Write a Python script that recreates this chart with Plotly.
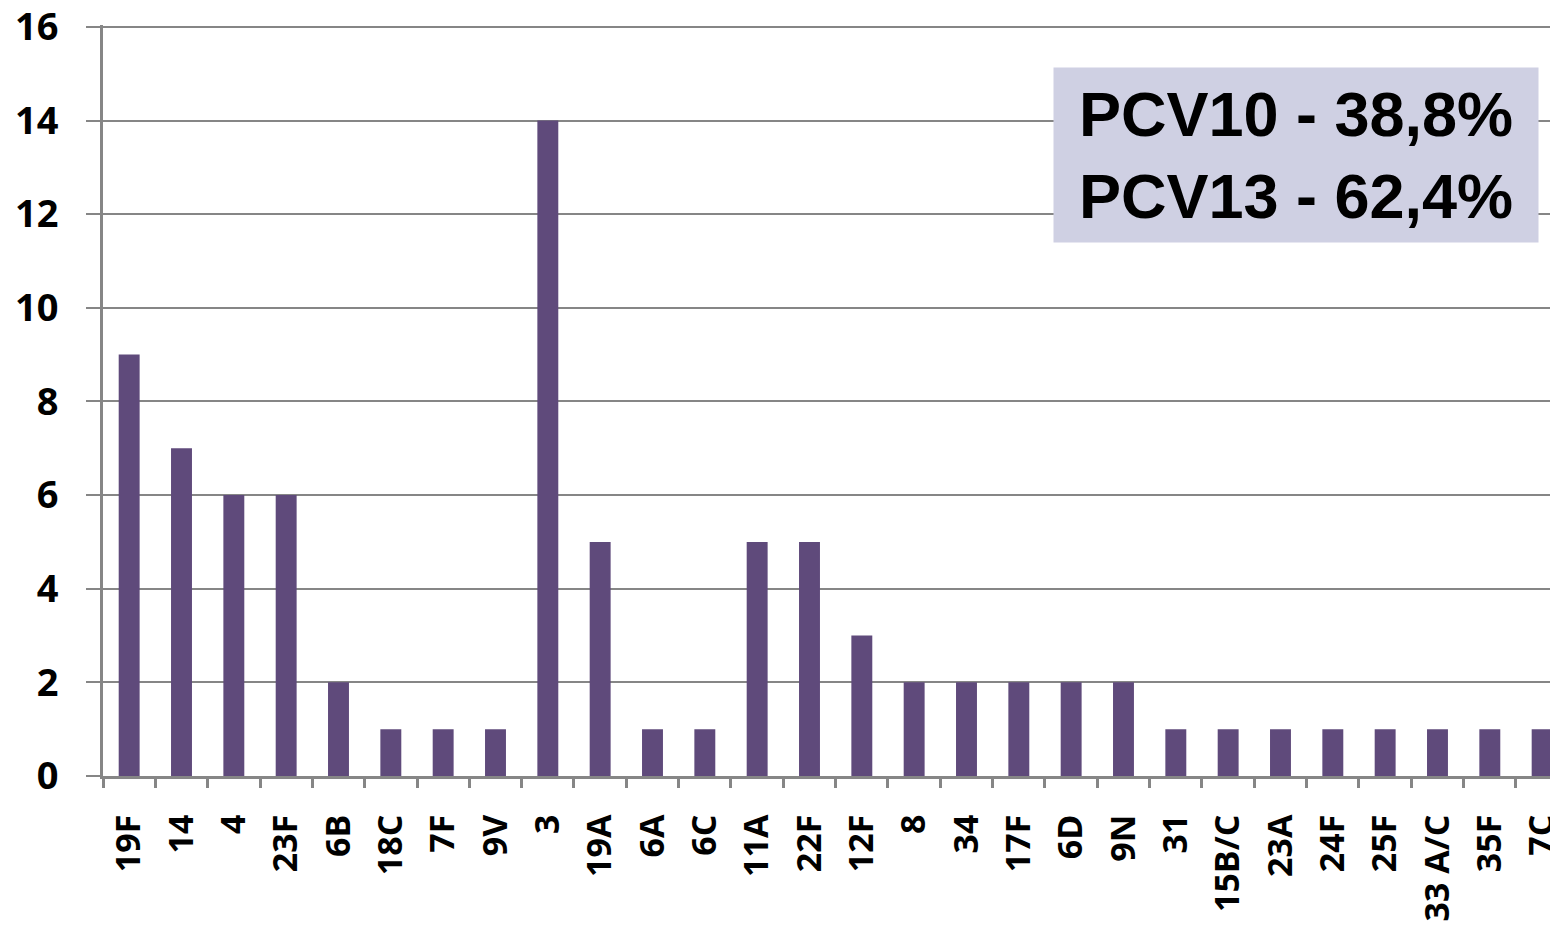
import plotly.graph_objects as go

serotypes = ['19F', '14', '4', '23F', '6B', '18C', '7F', '9V', '3', '19A', '6A', '6C',
             '11A', '22F', '12F', '8', '34', '17F', '6D', '9N', '31', '15B/C', '23A',
             '24F', '25F', '33 A/C', '35F', '7C']
counts = [9, 7, 6, 6, 2, 1, 1, 1, 14, 5, 1, 1, 5, 5, 3, 2, 2, 2, 2, 2, 1, 1, 1, 1, 1, 1, 1, 1]
y_ticks = [0, 2, 4, 6, 8, 10, 12, 14, 16]
box_text = "PCV10 - 38,8%<br>PCV13 - 62,4%"

GRAY = '#868686'
BAR = '#5F4A7B'

fig = go.Figure()
fig.add_trace(go.Bar(x=serotypes, y=counts, marker=dict(color=BAR, line=dict(width=0))))

fig.update_xaxes(
    type='category',
    range=[-0.5, 27.15],
    showline=True, linecolor=GRAY, linewidth=3,
    ticks='outside', tickson='boundaries', ticklen=9, tickwidth=3, tickcolor=GRAY,
    tickangle=-90,
    tickfont=dict(family='Open Sans', size=34, color='black', weight='bold'),
    ticklabelstandoff=22, ticklabeloverflow='allow',
    showgrid=False, automargin=False,
)
# small headroom above 16 so the top grid line is not clipped at the edge
fig.update_yaxes(
    range=[0, 16.04],
    tickvals=y_ticks,
    showline=True, linecolor=GRAY, linewidth=3,
    ticks='outside', ticklen=14, tickwidth=2, tickcolor=GRAY,
    showgrid=True, gridcolor=GRAY, gridwidth=2,
    zeroline=False, automargin=False,
    tickfont=dict(family='Open Sans', size=38, color='black', weight='bold'),
    ticklabelstandoff=20, ticklabeloverflow='allow',
)

fig.add_annotation(
    text=box_text, xref='paper', yref='paper', x=0.8245, y=0.8269,
    xanchor='center', yanchor='middle', showarrow=False,
    width=484, height=174, borderpad=0, bgcolor='#CFD0E3',
    font=dict(family='Liberation Sans', size=63, color='black', weight='bold'),
    align='center',
)

fig.update_layout(
    width=1550, height=925,
    margin=dict(l=103, r=0, t=25, b=149),
    plot_bgcolor='white', paper_bgcolor='white',
    bargap=0.6, showlegend=False,
)

# drop the default 8px page margin so the figure fills the window
fig.write_html("out.html", config={'displayModeBar': False},
               post_script="document.body.style.margin = '0';")
